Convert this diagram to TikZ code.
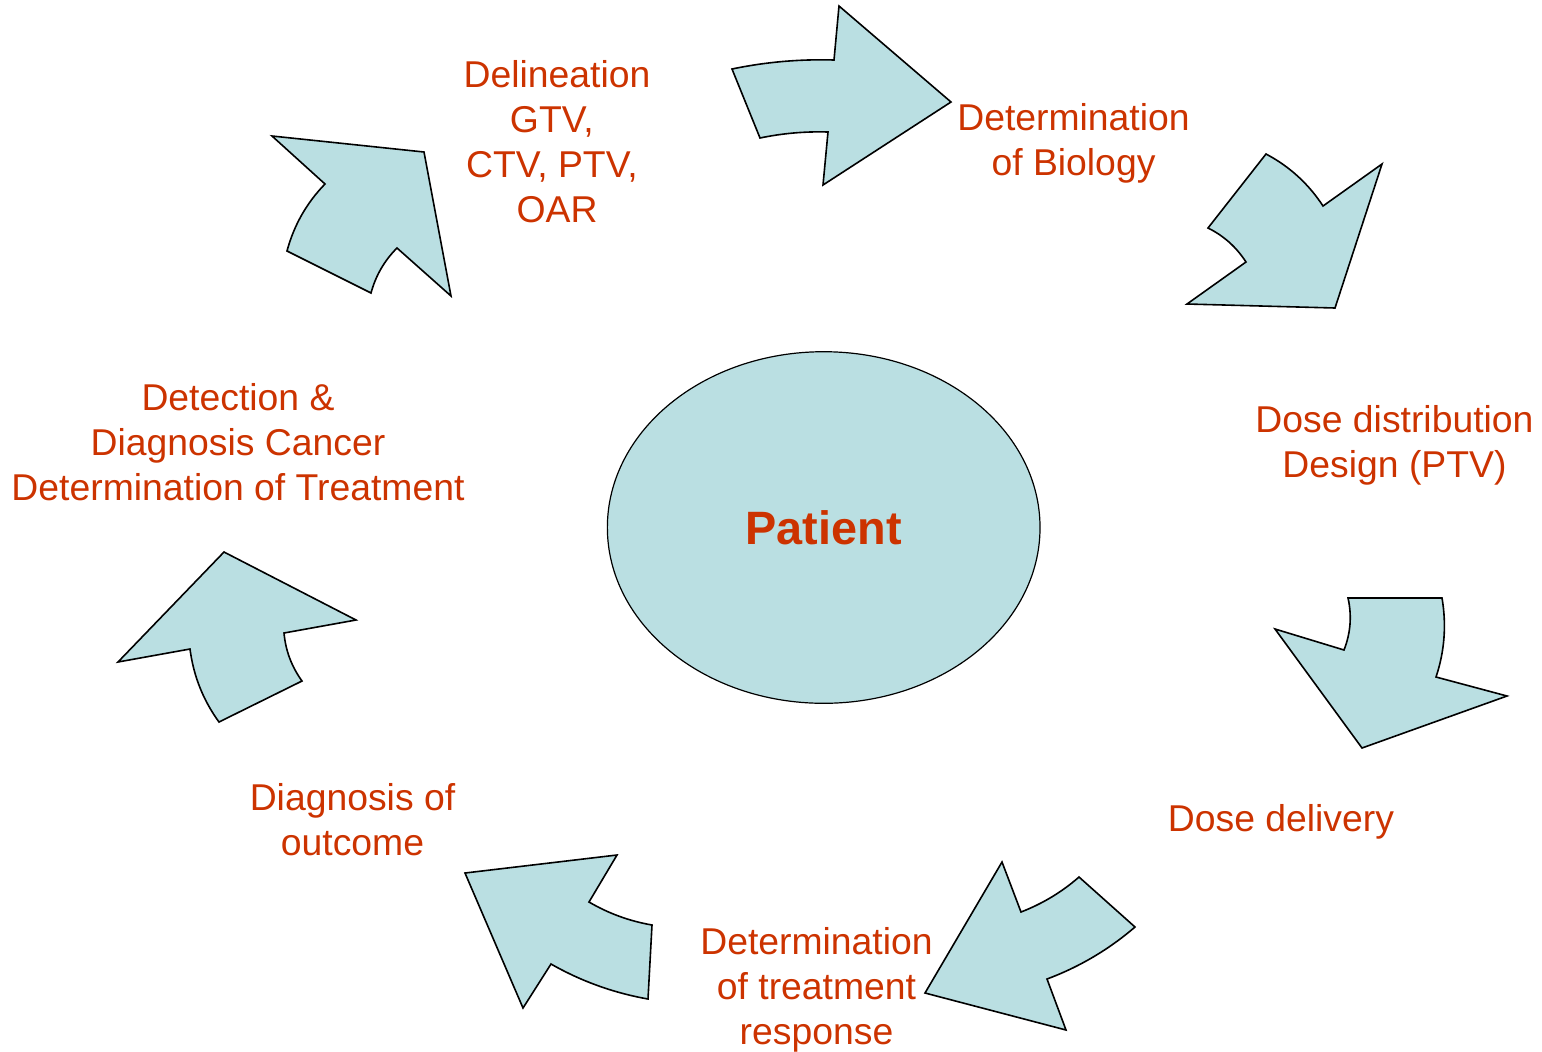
\documentclass[tikz,border=0pt]{standalone}
\usepackage{fontspec}
\setmainfont{Liberation Sans}
\usetikzlibrary{shapes.geometric}
\definecolor{labelred}{RGB}{204,51,0}
\definecolor{cyclefill}{RGB}{186,223,226}
\begin{document}
\begin{tikzpicture}[x=0.75pt,y=-0.75pt,
  cyclearrow/.style={draw=black,line width=1.2pt,fill=cyclefill,line join=miter},
  steplabel/.style={text=labelred,font=\fontsize{28}{33.75}\selectfont,
    align=center,inner sep=0pt,anchor=north},
  hub/.style={ellipse,draw=black,line width=0.9pt,fill=cyclefill,inner sep=0pt,
    minimum width=324.5pt,minimum height=263.7pt,text=labelred,
    font=\fontsize{35.1}{42}\selectfont\bfseries}]
\useasboundingbox (0,0) rectangle (1542,1051);

% central patient ellipse
\node[hub] (patient) at (823.7,527.5) {Patient};

% cycle of curved block arrows, clockwise from the top
\path[cyclearrow] (732,69) .. controls (765.6,62.0) and (799.6,59.0) .. (834,60) -- (839,6) -- (951,102)
  -- (823,185) -- (828,132) .. controls (805.1,131.3) and (782.5,133.3) .. (760,138) -- cycle;
\path[cyclearrow] (1266,154) .. controls (1289.5,166.4) and (1308.5,183.8) .. (1323,206) -- (1382,164)
  -- (1335,308) -- (1187,304) -- (1246,262) .. controls (1236.4,247.2) and (1223.8,235.8) .. (1208,228) -- cycle;
\path[cyclearrow] (1442,598) .. controls (1446.6,624.8) and (1444.6,651.2) .. (1436,677) -- (1507,696)
  -- (1362,748) -- (1275,629) -- (1344,650) .. controls (1350.6,633.1) and (1352.0,615.7) .. (1348,598) -- cycle;
\path[cyclearrow] (1002,862) -- (1021,912) .. controls (1042.4,903.7) and (1061.8,892.1) .. (1079,877)
  -- (1135,927) .. controls (1108.8,949.5) and (1079.4,966.9) .. (1047,979) -- (1066,1030) -- (925,993) -- cycle;
\path[cyclearrow] (465,873) -- (617,855) -- (589,902) .. controls (608.6,913.5) and (629.6,921.1) .. (652,925)
  -- (648,999) .. controls (613.7,992.9) and (581.3,981.3) .. (551,964) -- (523,1008) -- cycle;
\path[cyclearrow] (224,552) -- (356,620) -- (284,633) .. controls (285.6,650.6) and (291.6,666.6) .. (302,681)
  -- (219,722) .. controls (203.1,700.2) and (193.5,675.8) .. (190,649) -- (118,662) -- cycle;
\path[cyclearrow] (272,136) -- (424,152) -- (451,296) -- (397,248) .. controls (384.3,260.7) and (375.7,275.7) .. (371,293)
  -- (287,251) .. controls (293.9,225.4) and (306.5,203.0) .. (325,184) -- cycle;

% step labels
\node[steplabel] (delineation) at (557,56) {\strut Delineation\\GTV,\kern.278em\\CTV, PTV,\kern.278em\\OAR};
\node[steplabel] (biology) at (1073.5,99) {\strut Determination\\of Biology};
\node[steplabel] (dosedesign) at (1394.5,401) {\strut Dose distribution\\Design (PTV)};
\node[steplabel] (delivery) at (1281,800) {\strut Dose delivery};
\node[steplabel] (response) at (816.5,923) {\strut Determination\\of treatment\\response};
\node[steplabel] (outcome) at (352.5,779) {\strut Diagnosis of\\outcome};
\node[steplabel] (detection) at (238,378.5) {\strut Detection \&\\Diagnosis Cancer\\Determination of Treatment};
\end{tikzpicture}
\end{document}
